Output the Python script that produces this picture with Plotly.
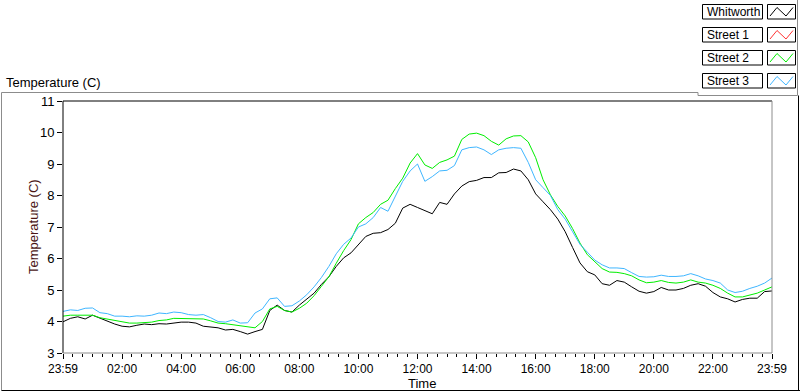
import plotly.graph_objects as go

# ---------------- data ----------------
# samples every 15 minutes, from 23:59 (0 h) to 23:59 (24 h)
time_h = [i * 0.25 for i in range(97)]

whitworth = [3.99, 4.10, 4.15, 4.08, 4.20, 4.10, 4.00, 3.92, 3.85, 3.83,
             3.88, 3.92, 3.90, 3.93, 3.92, 3.96, 3.98, 3.98, 3.95, 3.85,
             3.83, 3.80, 3.73, 3.75, 3.68, 3.60, 3.68, 3.75, 4.35, 4.52,
             4.35, 4.30, 4.52, 4.70, 4.90, 5.18, 5.42, 5.75, 6.02, 6.18,
             6.45, 6.70, 6.80, 6.82, 6.92, 7.12, 7.60, 7.72, 7.62, 7.52,
             7.42, 7.78, 7.72, 8.05, 8.30, 8.44, 8.48, 8.57, 8.57, 8.72,
             8.73, 8.84, 8.78, 8.50, 8.05, 7.80, 7.55, 7.25, 6.85, 6.35,
             5.86, 5.58, 5.48, 5.20, 5.15, 5.30, 5.25, 5.10, 4.96, 4.90,
             4.95, 5.08, 5.00, 5.00, 5.05, 5.15, 5.20, 5.12, 4.92, 4.78,
             4.72, 4.62, 4.70, 4.74, 4.74, 4.95, 4.97]

street1 = []  # no data shown

street2 = [4.17, 4.20, 4.20, 4.20, 4.20, 4.12, 4.08, 4.02, 3.98, 3.95,
           3.95, 3.97, 3.98, 4.03, 4.05, 4.10, 4.10, 4.10, 4.08, 4.08,
           4.02, 3.95, 3.93, 3.90, 3.85, 3.82, 3.80, 4.00, 4.40, 4.48,
           4.35, 4.30, 4.42, 4.58, 4.82, 5.12, 5.42, 5.85, 6.25, 6.60,
           7.10, 7.30, 7.46, 7.72, 7.85, 8.22, 8.55, 9.03, 9.33, 8.97,
           8.86, 9.05, 9.13, 9.25, 9.78, 9.95, 9.98, 9.90, 9.72, 9.60,
           9.80, 9.89, 9.90, 9.70, 9.20, 8.50, 8.02, 7.65, 7.35, 6.95,
           6.49, 6.12, 5.90, 5.68, 5.57, 5.56, 5.52, 5.45, 5.32, 5.23,
           5.25, 5.30, 5.24, 5.22, 5.25, 5.32, 5.25, 5.22, 5.15, 5.05,
           4.90, 4.78, 4.78, 4.84, 4.90, 5.00, 5.10]

street3 = [4.32, 4.37, 4.35, 4.42, 4.43, 4.28, 4.25, 4.17, 4.17, 4.15,
           4.18, 4.17, 4.20, 4.27, 4.25, 4.30, 4.28, 4.22, 4.20, 4.22,
           4.12, 4.00, 3.98, 4.05, 3.95, 3.96, 4.27, 4.40, 4.72, 4.75,
           4.48, 4.50, 4.65, 4.85, 5.10, 5.40, 5.75, 6.15, 6.45, 6.65,
           7.00, 7.10, 7.30, 7.62, 7.50, 8.00, 8.45, 8.78, 9.00, 8.45,
           8.60, 8.78, 8.80, 8.95, 9.45, 9.52, 9.54, 9.45, 9.30, 9.45,
           9.50, 9.52, 9.50, 9.05, 8.50, 8.25, 8.00, 7.55, 7.25, 6.85,
           6.45, 6.20, 5.95, 5.80, 5.70, 5.70, 5.68, 5.55, 5.43, 5.41,
           5.42, 5.47, 5.43, 5.43, 5.45, 5.52, 5.45, 5.35, 5.30, 5.22,
           5.00, 4.92, 4.96, 5.05, 5.12, 5.22, 5.38]

series_names = ["Whitworth", "Street 1", "Street 2", "Street 3"]
series_colors = ["#000000", "#ff3333", "#00ee00", "#3fb6ff"]

x_tickvals = [0, 2, 4, 6, 8, 10, 12, 14, 16, 18, 20, 22, 24]
x_ticktext = ["23:59", "02:00", "04:00", "06:00", "08:00", "10:00", "12:00",
              "14:00", "16:00", "18:00", "20:00", "22:00", "23:59"]
y_tickvals = [3, 4, 5, 6, 7, 8, 9, 10, 11]

# ---------------- layout geometry (pixels) ----------------
W, H = 800, 392
PL, PR, PT, PB = 63, 772, 101, 353
FONT = "Arial, Liberation Sans, sans-serif"


def fx(px):
    return (px - PL) / (PR - PL)


def fy(py):
    return (PB - py) / (PB - PT)


fig = go.Figure()
for name, col, ys in zip(series_names, series_colors,
                         [whitworth, street1, street2, street3]):
    fig.add_trace(go.Scatter(x=time_h[:len(ys)], y=ys, mode="lines", name=name,
                             line=dict(color=col, width=1), showlegend=False,
                             hoverinfo="skip"))

shapes = []


def pline(x0, y0, x1, y1, color, width=1):
    shapes.append(dict(type="line", xref="paper", yref="paper",
                       x0=fx(x0), y0=fy(y0), x1=fx(x1), y1=fy(y1),
                       line=dict(color=color, width=width), layer="above"))


# plot-area border
pline(PL, PT, PL, PB, "#000000")
pline(PL, PT, PR, PT, "#000000")
pline(PL, PB, PR, PB, "#8c8c8c")
pline(PR, PT, PR, PB, "#8c8c8c")

# outer frame
pline(1.5, 92.5, 698, 92.5, "#8c8c8c")
pline(698, 92.5, 698, 95.5, "#8c8c8c")
pline(698, 95.5, 797.5, 95.5, "#8c8c8c")
pline(797.5, 0, 797.5, 95.5, "#8c8c8c")
pline(1.5, 92.5, 1.5, 390.5, "#8c8c8c")
pline(1.5, 390.5, 800, 390.5, "#000000")
pline(798.5, 95.5, 798.5, 390.5, "#000000")

annotations = []

# custom legend
for i, (name, col) in enumerate(zip(series_names, series_colors)):
    top = 4.5 + i * 23
    bot = top + 14.5
    shapes.append(dict(type="rect", xref="paper", yref="paper",
                       x0=fx(702.5), x1=fx(762.5), y0=fy(bot), y1=fy(top),
                       line=dict(color="#000000", width=1), fillcolor="white",
                       layer="above"))
    shapes.append(dict(type="rect", xref="paper", yref="paper",
                       x0=fx(767.5), x1=fx(795.5), y0=fy(bot), y1=fy(top),
                       line=dict(color="#000000", width=1), fillcolor="white",
                       layer="above"))
    pts = [(770, bot - 3), (777, top + 3), (786, bot - 3), (793, top + 3)]
    path = "M " + " L ".join(f"{fx(a)},{fy(b)}" for a, b in pts)
    shapes.append(dict(type="path", xref="paper", yref="paper", path=path,
                       line=dict(color=col, width=1), layer="above"))
    annotations.append(dict(x=fx(704.5), y=fy((top + bot) / 2), xref="paper",
                            yref="paper", text=name, showarrow=False,
                            xanchor="left", yanchor="middle",
                            font=dict(family=FONT, size=12, color="#000000")))

# titles
annotations.append(dict(x=fx(4), y=fy(82.5), xref="paper", yref="paper",
                        text="Temperature (C)", showarrow=False,
                        xanchor="left", yanchor="middle",
                        font=dict(family=FONT, size=13, color="#000000")))
annotations.append(dict(x=fx(33), y=fy(227), xref="paper", yref="paper",
                        text="Temperature (C)", showarrow=False, textangle=-90,
                        xanchor="center", yanchor="middle",
                        font=dict(family=FONT, size=13, color="#4b1515")))
annotations.append(dict(x=fx(422), y=fy(383.5), xref="paper", yref="paper",
                        text="Time", showarrow=False,
                        xanchor="center", yanchor="middle",
                        font=dict(family=FONT, size=13, color="#000000")))

fig.update_layout(
    width=W, height=H,
    margin=dict(l=PL, r=W - PR, t=PT, b=H - PB, pad=0),
    paper_bgcolor="white", plot_bgcolor="white",
    shapes=shapes, annotations=annotations,
    showlegend=False,
    font=dict(family=FONT, size=12, color="#000000"),
)
fig.update_xaxes(
    range=[0, 24], tickmode="array", tickvals=x_tickvals, ticktext=x_ticktext,
    ticks="outside", ticklen=5, tickcolor="#000000", tickwidth=1,
    showgrid=False, zeroline=False, showline=False,
    tickfont=dict(family=FONT, size=12, color="#000000"),
    minor=dict(tickmode="linear", tick0=0, dtick=1 / 3, ticks="outside",
               ticklen=3, tickcolor="#000000", tickwidth=1, showgrid=False),
)
fig.update_yaxes(
    range=[3, 11], tickmode="array", tickvals=y_tickvals,
    ticks="outside", ticklen=5, tickcolor="#000000", tickwidth=1,
    showgrid=False, zeroline=False, showline=False,
    tickfont=dict(family=FONT, size=13, color="#000000"),
)

fig.write_html(
    "out.html",
    config={"displayModeBar": False},
    post_script="document.body.style.margin='0px';"
                "document.body.style.padding='0px';"
                "document.documentElement.style.overflow='hidden';",
)
